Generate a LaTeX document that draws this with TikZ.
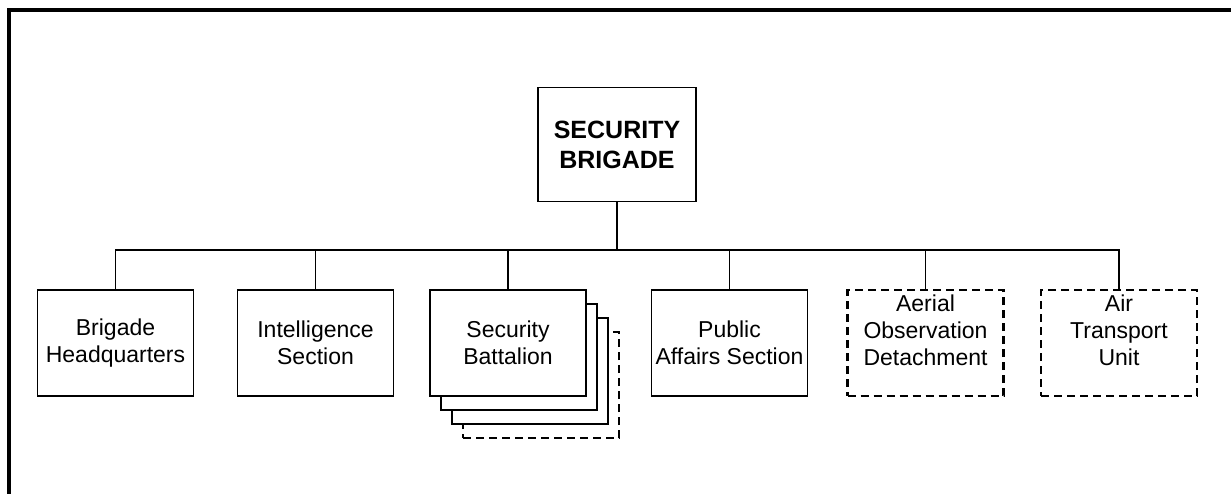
\documentclass[tikz,border=0pt]{standalone}
\usepackage{fontspec}
\setmainfont{Liberation Sans}
\begin{document}
\begin{tikzpicture}[x=1pt,y=-1pt,
  unit/.style={draw, line width=1.8pt, fill=white, minimum width=156pt, minimum height=106pt,
    inner sep=0pt, align=center, font=\fontsize{23}{27}\selectfont},
  dunit/.style={unit, line width=2.4pt, dash pattern=on 8pt off 5pt},
  utext/.style={align=center, inner sep=0pt, font=\fontsize{23}{27}\selectfont},
  conn/.style={line width=1.8pt}]
\useasboundingbox (0,0) rectangle (1231,493);
\clip (0,0) rectangle (1231,493);
\draw[line width=4pt] (9,500) -- (9,10) -- (1240,10);
% top
\node[unit, minimum width=158pt, minimum height=114pt, font=\bfseries\fontsize{25}{30}\selectfont] (top) at (617,144.5) {SECURITY\\BRIGADE};
% children
\node[unit] (hq) at (115.5,343) {Brigade\\Headquarters};
\node[unit] (intel) at (315.5,343) {Intelligence\\Section};
\node[dunit] (sb3) at (541,385) {};
\node[unit] (sb2) at (530,371) {};
\node[unit] (sb1) at (519,357) {};
\node[unit] (sb) at (508,343) {Security\\Battalion};
\node[unit] (pa) at (729.5,343) {Public\\Affairs Section};
\node[dunit] (aod) at (925.5,343) {};
\node[utext] (aodt) at ([yshift=13pt]aod.center) {Aerial\\Observation\\Detachment};
\node[dunit] (atu) at (1119,343) {};
\node[utext] (atut) at ([yshift=13pt]atu.center) {Air\\Transport\\Unit};
% connectors
\coordinate (bus) at (617,250);
\draw[conn] (top.south) -- (bus);
\draw[conn] (hq.north) |- (bus) -| (atu.north);
\draw[conn] (intel.north) -- (intel.north |- bus);
\draw[conn] (sb.north) -- (sb.north |- bus);
\draw[conn] (pa.north) -- (pa.north |- bus);
\draw[conn] (aod.north) -- (aod.north |- bus);
\end{tikzpicture}
\end{document}
